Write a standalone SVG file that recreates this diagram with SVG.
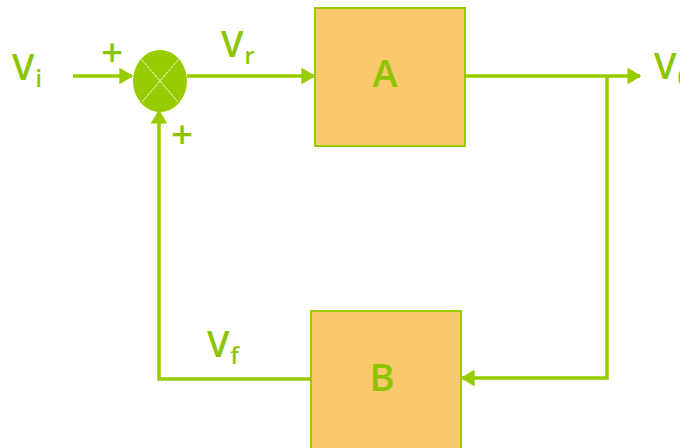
<svg xmlns="http://www.w3.org/2000/svg" width="680" height="448" viewBox="0 0 680 448">
<style>
.ln{stroke:#99CC00;stroke-width:3.5;fill:none}
.box{fill:#FAC96B;stroke:#99CC00;stroke-width:2}
.t{font-family:"Open Sans","DejaVu Sans",sans-serif;fill:#8CC400;font-weight:600}
.big{font-size:36px}
.sub{font-size:23px}
.pl{font-size:38px}
.lbl{font-size:38px}
</style>
<defs>
<marker id="ah" viewBox="0 0 10 12" refX="9" refY="6" markerWidth="4" markerHeight="4.8" markerUnits="strokeWidth" orient="auto">
<path d="M0,0 L10,6 L0,12 z" fill="#99CC00"/>
</marker>
</defs>
<rect width="680" height="448" fill="#fff"/>
<g id="connectors">
<line class="ln" x1="73" y1="76" x2="132" y2="76" marker-end="url(#ah)"/>
<line class="ln" x1="187" y1="76" x2="314" y2="76" marker-end="url(#ah)"/>
<line class="ln" x1="465" y1="76" x2="640" y2="76" marker-end="url(#ah)"/>
<polyline class="ln" points="607,76 607,378 462,378" marker-end="url(#ah)"/>
<polyline class="ln" points="310,379 159,379 159,111" marker-end="url(#ah)"/>
</g>
<g id="sum">
<ellipse cx="160" cy="81" rx="27" ry="31" fill="#99CC00"/>
<line x1="142" y1="60" x2="178" y2="102" stroke="#fff" stroke-width="1" stroke-dasharray="3,1"/>
<line x1="178" y1="60" x2="142" y2="102" stroke="#fff" stroke-width="1" stroke-dasharray="3,1"/>
</g>
<g id="boxA">
<rect class="box" x="315" y="8" width="150" height="138"/>
<text class="t lbl" x="385" y="87" text-anchor="middle">A</text>
</g>
<g id="boxB">
<rect class="box" x="311" y="311" width="150" height="150"/>
<text class="t lbl" x="382" y="391" text-anchor="middle">B</text>
</g>
<g id="labels">
<text class="t big" x="12" y="80">V<tspan class="sub" dx="1" dy="7">i</tspan></text>
<text class="t pl" x="112" y="66" text-anchor="middle">+</text>
<text class="t pl" x="182" y="148" text-anchor="middle">+</text>
<text class="t big" x="221" y="57">V<tspan class="sub" dx="1" dy="7">r</tspan></text>
<text class="t big" x="207" y="357">V<tspan class="sub" dx="1" dy="7">f</tspan></text>
<text class="t big" x="654" y="79">V<tspan class="sub" dx="1" dy="7">0</tspan></text>
</g>
</svg>
